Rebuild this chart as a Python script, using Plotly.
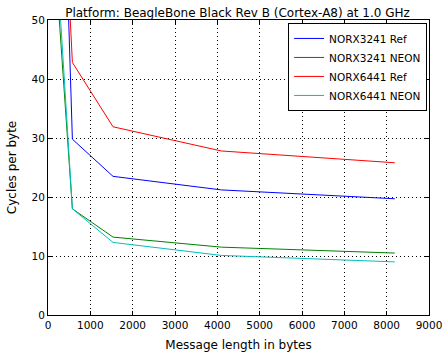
import plotly.graph_objects as go

msg_len = [64, 576, 1536, 4096, 8192]
norx3241_ref = [148, 29.8, 23.5, 21.2, 19.7]
norx3241_neon = [71, 18.0, 13.2, 11.5, 10.5]
norx6441_ref = [117, 42.8, 31.9, 27.8, 25.8]
norx6441_neon = [77, 18.0, 12.3, 10.1, 9.0]

series = [
    ("NORX3241 Ref", norx3241_ref, "#0000ff"),
    ("NORX3241 NEON", norx3241_neon, "#008000"),
    ("NORX6441 Ref", norx6441_ref, "#ff0000"),
    ("NORX6441 NEON", norx6441_neon, "#00bfbf"),
]

fig = go.Figure()
for name, vals, col in series:
    fig.add_trace(go.Scatter(x=msg_len, y=vals, mode="lines", name=name,
                             line=dict(color=col, width=1)))

font = "DejaVu Sans"
axis_common = dict(
    showgrid=True, gridcolor="black", griddash="1px,3px", gridwidth=1,
    showline=True, linecolor="black", linewidth=1, mirror="allticks",
    ticks="inside", ticklen=4, tickcolor="black", zeroline=False,
    automargin=False,
    tickfont=dict(family=font, size=10.5, color="black"),
)
fig.update_layout(
    width=444, height=352,
    margin=dict(l=48, r=15, t=20, b=37),
    plot_bgcolor="white", paper_bgcolor="white",
    title=dict(text="Platform: BeagleBone Black Rev B (Cortex-A8) at 1.0 GHz",
               x=0.535, xanchor="center", y=0.965, yanchor="middle",
               font=dict(family=font, size=12, color="black")),
    xaxis=dict(range=[0, 9000], dtick=1000,
               title=dict(text="Message length in bytes", standoff=12,
                          font=dict(family=font, size=12, color="black")),
               **axis_common),
    yaxis=dict(range=[0, 50], dtick=10,
               title=dict(text="Cycles per byte", standoff=12,
                          font=dict(family=font, size=12, color="black")),
               **axis_common),
    legend=dict(x=0.995, y=0.99, xanchor="right", yanchor="top",
                bgcolor="white", bordercolor="black", borderwidth=1,
                font=dict(family=font, size=10.5, color="black"),
                tracegroupgap=0),
    showlegend=True,
)
fig.write_html("out.html")
